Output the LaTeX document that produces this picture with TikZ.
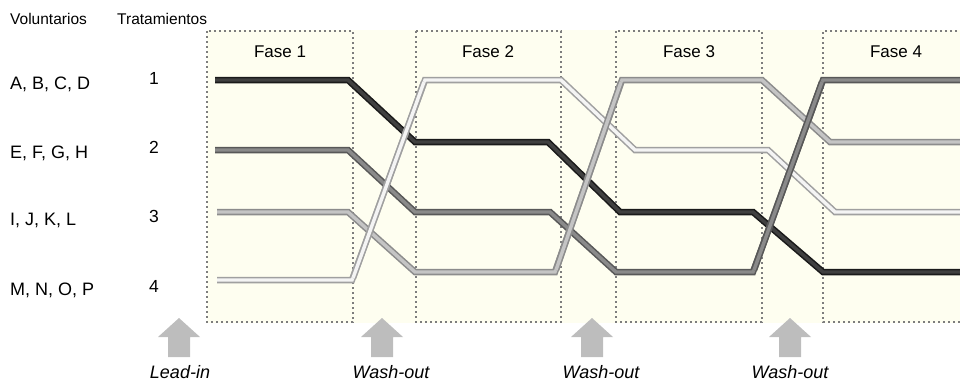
\documentclass[tikz,border=0pt]{standalone}
\usepackage{fontspec}
\setmainfont{Liberation Sans}
\definecolor{bgc}{RGB}{254,254,240}
\definecolor{dotc}{RGB}{125,125,125}
\definecolor{arrc}{RGB}{189,189,189}
\definecolor{kO}{RGB}{26,26,26}\definecolor{kI}{RGB}{64,64,64}
\definecolor{dO}{RGB}{88,88,88}\definecolor{dI}{RGB}{138,138,138}
\definecolor{lO}{RGB}{140,140,140}\definecolor{lI}{RGB}{196,196,196}
\definecolor{wO}{RGB}{160,160,160}\definecolor{wI}{RGB}{244,244,244}
\tikzset{
  phasebox/.style={draw=dotc, line width=2.4pt, dash pattern=on 2.4pt off 2.6pt},
  tube/.style 2 args={draw=#1, line width=6.5pt, line join=miter,
     postaction={draw=#2, line width=3.4pt}},
  hdr/.style={font=\fontsize{15.5}{18}\selectfont, inner sep=0pt},
  grp/.style={font=\fontsize{18}{21}\selectfont, inner sep=0pt, anchor=base west},
  num/.style={font=\fontsize{17.5}{20}\selectfont, inner sep=0pt, anchor=base},
  fase/.style={font=\fontsize{17}{20}\selectfont, inner sep=0pt, anchor=base},
  per/.style={font=\fontsize{18}{21}\selectfont\itshape, inner sep=0pt, anchor=base},
  uparrow/.style={fill=arrc, draw=none}
}
\begin{document}
\begin{tikzpicture}[x=1pt,y=-1pt]
\useasboundingbox (0,0) rectangle (960,380);
% background band
\fill[bgc] (207,30) rectangle (960,323);
% phase boxes
\draw[phasebox] (207,31) rectangle (353,322);
\draw[phasebox] (416,31) rectangle (561,322);
\draw[phasebox] (616,31) rectangle (762,322);
\draw[phasebox] (962,31) -- (823,31) -- (823,322) -- (962,322);
% header texts
\node[hdr, anchor=base west] (vol) at (10,24) {Voluntarios};
\node[hdr, anchor=base west] (tra) at (117,24) {Tratamientos};
\node[fase] (f1) at (280,57) {Fase 1};
\node[fase] (f2) at (488,57) {Fase 2};
\node[fase] (f3) at (689,57) {Fase 3};
\node[fase] (f4) at (896,57) {Fase 4};
% groups and treatments
\node[grp] (gA) at (10,89) {A, B, C, D};
\node[grp] (gE) at (10,158) {E, F, G, H};
\node[grp] (gI) at (10,225) {I, J, K, L};
\node[grp] (gM) at (10,295) {M, N, O, P};
\node[num] (t1) at (154,84) {1};
\node[num] (t2) at (154,153) {2};
\node[num] (t3) at (154,222) {3};
\node[num] (t4) at (154,292) {4};
% treatment tracks
\draw[tube={kO}{kI}] (215,80) -- (348,80) -- (415,142) -- (548,142) -- (620,212) -- (753,212) -- (823,272) -- (962,272);
\draw[tube={dO}{dI}] (215,150) -- (348,150) -- (415,212) -- (550,212) -- (616,272) -- (753,272) -- (823,80) -- (962,80);
\draw[tube={lO}{lI}] (217,212) -- (348,212) -- (415,272) -- (555,272) -- (622,80) -- (762,80) -- (830,142) -- (962,142);
\draw[tube={wO}{wI}] (217,280) -- (352,280) -- (425,80) -- (561,80) -- (635,150) -- (768,150) -- (835,212) -- (962,212);
% climbing segments on top
\draw[tube={wO}{wI}] (353,278) -- (424,82);
\draw[tube={lO}{lI}] (556,270) -- (621,82);
\draw[tube={dO}{dI}] (754,270) -- (822,82);
% arrows
\foreach \cx/\nm in {179/a0,382/a1,592/a2,790/a3}{
  \fill[uparrow] (\cx,318) -- (\cx+21,337) -- (\cx+11,337) -- (\cx+11,357)
     -- (\cx-11,357) -- (\cx-11,337) -- (\cx-21,337) -- cycle;
}
\node[per] (li) at (180,378) {Lead-in};
\node[per] (w1) at (391,378) {Wash-out};
\node[per] (w2) at (601,378) {Wash-out};
\node[per] (w3) at (790,378) {Wash-out};
\end{tikzpicture}
\end{document}
